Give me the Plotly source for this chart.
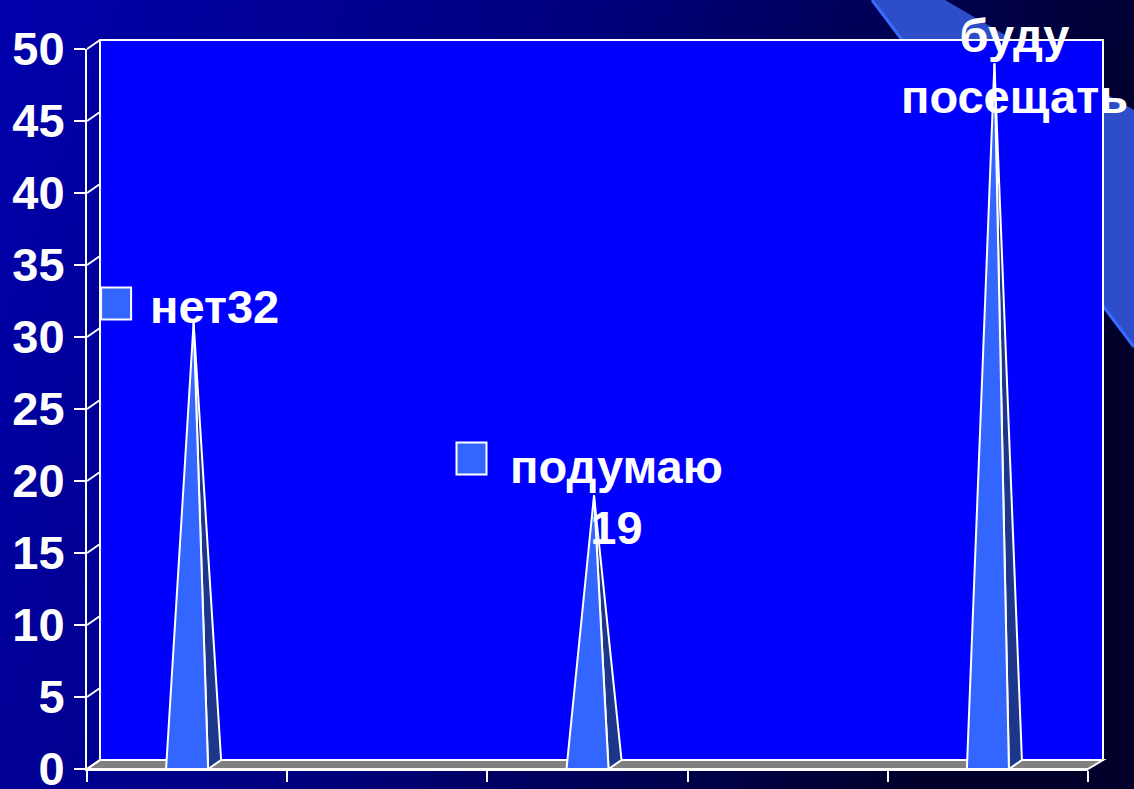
import base64
import plotly.graph_objects as go

# ---------------- data ----------------
categories = ["нет32", "", "подумаю 19", "", "буду посещать"]
values = [31, None, 19, None, 49]
data_labels = ["нет32", None, "подумаю<br>19", None, "буду<br>посещать"]
y_tick_values = list(range(0, 51, 5))

# ---------------- layout constants (pixels) ----------------
W, H = 1134, 789
FX0, FX1 = 87, 1088          # front axes (x)
FY_TOP, FY_BOT = 49, 769     # front axes (y)
DX, DY = 13, 9               # 3D depth offset
BX0, BX1 = FX0 + DX, FX1 + DX
BY_TOP, BY_BOT = FY_TOP - DY, FY_BOT - DY
Y_MAX = 50


def px(x):
    return x / W


def py(y):
    return 1 - y / H


FRONT_COLOR = "#3366FF"
SIDE_COLOR = "#1C378A"
WALL_COLOR = "#0000FF"
FLOOR_COLOR = "#808080"
FONT = "Liberation Sans, Arial, sans-serif"

# pyramid geometry in axis units
HALF_W = 0.105
APEX_OFF = 0.0325
SIDE_DX = DX / ((FX1 - FX0) / 5)
SIDE_DY = DY / ((FY_BOT - FY_TOP) / Y_MAX)

# label styles (pixel offsets relative to each data point)
label_styles = [
    dict(xanchor="left", xshift=-39, yshift=16, sq=(-71, 19)),
    None,
    dict(xanchor="center", xshift=29, yshift=-2, sq=(-116, 37)),
    None,
    dict(xanchor="center", xshift=27, yshift=-3, sq=(-124, 33)),
]

fig = go.Figure()

for i, (cat, v) in enumerate(zip(categories, values)):
    if v is None:
        continue
    # side (dark) face
    fig.add_trace(go.Scatter(
        x=[i + HALF_W, i + HALF_W + SIDE_DX, i + APEX_OFF, i + HALF_W],
        y=[0, SIDE_DY, v, 0],
        mode="lines", fill="toself", fillcolor=SIDE_COLOR,
        line=dict(color="white", width=2),
        xaxis="x2", yaxis="y2", hoverinfo="skip", showlegend=False, name=cat,
    ))
    # front (light) face
    fig.add_trace(go.Scatter(
        x=[i - HALF_W, i + HALF_W, i + APEX_OFF, i - HALF_W],
        y=[0, 0, v, 0],
        mode="lines", fill="toself", fillcolor=FRONT_COLOR,
        line=dict(color="white", width=2),
        xaxis="x2", yaxis="y2", hoverinfo="skip", showlegend=False, name=cat,
    ))

shapes = []
# diagonal decorative band of the slide background
shapes.append(dict(
    type="path", xref="paper", yref="paper", layer="below",
    path=f"M {px(872)},{py(0)} L {px(945)},{py(0)} L {px(1134)},{py(110)} L {px(1134)},{py(347)} Z",
    fillcolor="#2D4EC8", line=dict(width=0),
))
shapes.append(dict(
    type="line", xref="paper", yref="paper", layer="below",
    x0=px(872), y0=py(0), x1=px(1134), y1=py(347),
    line=dict(color="#3A6BFF", width=3),
))
# back wall
shapes.append(dict(
    type="rect", xref="paper", yref="paper", layer="below",
    x0=px(BX0), x1=px(BX1 + 2), y0=py(BY_BOT), y1=py(BY_TOP),
    fillcolor=WALL_COLOR, line=dict(color="white", width=2),
))
# floor
shapes.append(dict(
    type="path", xref="paper", yref="paper", layer="below",
    path=(f"M {px(FX0)},{py(FY_BOT)} L {px(FX1)},{py(FY_BOT)} "
          f"L {px(BX1 + 2)},{py(BY_BOT)} L {px(BX0)},{py(BY_BOT)} Z"),
    fillcolor=FLOOR_COLOR, line=dict(color="white", width=2),
))
# connectors between front axis ticks and back wall gridlines
scale = (FY_BOT - FY_TOP) / Y_MAX
for t in y_tick_values:
    shapes.append(dict(
        type="line", xref="paper", yref="paper", layer="below",
        x0=px(FX0), y0=py(FY_BOT - t * scale),
        x1=px(BX0), y1=py(BY_BOT - t * scale),
        line=dict(color="white", width=2),
    ))

annotations = []
for i, (lab, v, st) in enumerate(zip(data_labels, values, label_styles)):
    if v is None or lab is None:
        continue
    annotations.append(dict(
        x=i, y=v, xref="x2", yref="y2", text=f"<b>{lab}</b>", showarrow=False,
        xanchor=st["xanchor"], yanchor="middle", xshift=st["xshift"], yshift=st["yshift"],
        align="center", font=dict(family=FONT, size=47, color="white"),
    ))
    sx, sy = st["sq"]
    shapes.append(dict(
        type="rect", xref="x2", yref="y2", layer="above",
        xsizemode="pixel", ysizemode="pixel", xanchor=i, yanchor=v,
        x0=sx - 15, x1=sx + 15, y0=sy - 16, y1=sy + 16,
        fillcolor=FRONT_COLOR, line=dict(color="white", width=2),
    ))

svg = (
    f'<svg xmlns="http://www.w3.org/2000/svg" width="{W}" height="{H}" viewBox="0 0 {W} {H}" '
    f'preserveAspectRatio="none"><defs><linearGradient id="g" x1="0" y1="0" x2="1" y2="0.25">'
    '<stop offset="0" stop-color="#0000AC"/><stop offset="0.5" stop-color="#00007C"/>'
    '<stop offset="1" stop-color="#00002A"/></linearGradient></defs>'
    f'<rect width="{W}" height="{H}" fill="url(#g)"/></svg>'
)
bg_src = "data:image/svg+xml;base64," + base64.b64encode(svg.encode()).decode()

fig.update_layout(
    width=W, height=H, autosize=False,
    margin=dict(l=0, r=0, t=0, b=0, pad=0, autoexpand=False),
    paper_bgcolor="#00007C", plot_bgcolor="rgba(0,0,0,0)",
    images=[dict(source=bg_src, xref="paper", yref="paper", x=0, y=1, sizex=1, sizey=1,
                 sizing="stretch", layer="below", xanchor="left", yanchor="top")],
    shapes=shapes, annotations=annotations,
    xaxis=dict(domain=[px(BX0), px(BX1)], range=[-0.5, 4.5], visible=False, anchor="y",
               automargin=False),
    yaxis=dict(domain=[py(BY_BOT), py(BY_TOP)], range=[0, Y_MAX], anchor="x",
               tickmode="array", tickvals=y_tick_values, automargin=False,
               showgrid=True, gridcolor="white", gridwidth=2,
               showticklabels=False, ticks="", zeroline=False, showline=False),
    xaxis2=dict(domain=[px(FX0), px(FX1)], range=[-0.5, 4.5], anchor="y2", automargin=False,
                tickmode="array", tickvals=[k - 0.5 for k in range(len(categories) + 1)],
                ticks="outside", ticklen=11, tickwidth=2, tickcolor="white",
                showticklabels=False, showgrid=False, zeroline=False,
                showline=True, linecolor="white", linewidth=2),
    yaxis2=dict(domain=[py(FY_BOT), py(FY_TOP)], range=[0, Y_MAX], anchor="x2", automargin=False,
                tickmode="array", tickvals=y_tick_values,
                ticks="outside", ticklen=11, tickwidth=2, tickcolor="white",
                tickfont=dict(family=FONT, size=47, color="white", weight="bold"),
                ticklabelstandoff=0, ticklabeloverflow="allow",
                showgrid=False, zeroline=False,
                showline=True, linecolor="white", linewidth=2),
)

fig.write_html("out.html", config={"displayModeBar": False},
               post_script="document.body.style.margin='0';document.body.style.overflow='hidden';")
